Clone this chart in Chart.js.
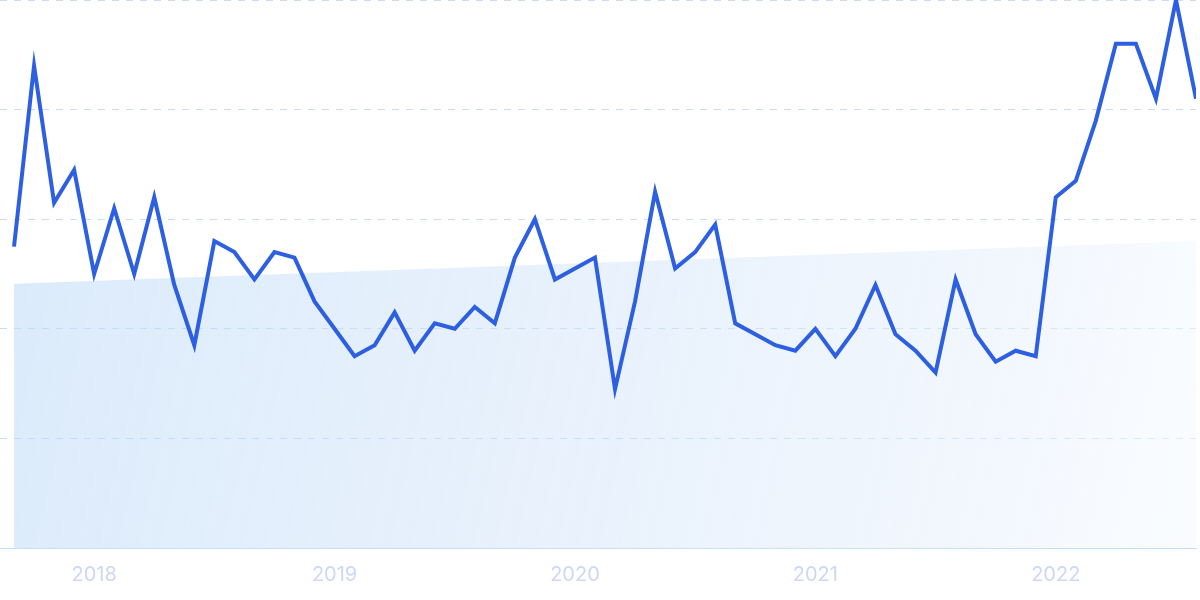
<!DOCTYPE html>
<html>
<head>
<meta charset="utf-8">
<script src="https://cdn.jsdelivr.net/npm/chart.js@4"></script>
<style>
html,body{margin:0;padding:0;background:#fff;}
#wrap{width:1200px;height:600px;}
</style>
</head>
<body>
<div id="wrap"><canvas id="c" width="1200" height="600"></canvas></div>
<script>
// Monthly interest, Sep 2017 .. Aug 2022
const months = ['2017-09','2017-10','2017-11','2017-12',
  '2018-01','2018-02','2018-03','2018-04','2018-05','2018-06','2018-07','2018-08','2018-09','2018-10','2018-11','2018-12',
  '2019-01','2019-02','2019-03','2019-04','2019-05','2019-06','2019-07','2019-08','2019-09','2019-10','2019-11','2019-12',
  '2020-01','2020-02','2020-03','2020-04','2020-05','2020-06','2020-07','2020-08','2020-09','2020-10','2020-11','2020-12',
  '2021-01','2021-02','2021-03','2021-04','2021-05','2021-06','2021-07','2021-08','2021-09','2021-10','2021-11','2021-12',
  '2022-01','2022-02','2022-03','2022-04','2022-05','2022-06','2022-07','2022-08'];
const interest = [55,88,63,69,
  50,62,50,64,48,37,56,54,49,54,53,45,
  40,35,37,43,36,41,40,44,41,53,60,49,
  51,53,29,45,65,51,54,59,41,39,37,36,
  40,35,40,48,39,36,32,49,39,34,36,35,
  64,67,78,92,92,82,100,82];
// Trend line: value at first and last month only
const trendStart = 48.2;
const trendEnd = 56.0;
const yearTickIndex = [4,16,28,40,52];
const yearLabels = ['2018','2019','2020','2021','2022'];

const linePoints = interest.map((v,i)=>({x:i,y:v}));
const trendPoints = [{x:0,y:trendStart},{x:months.length-1,y:trendEnd}];

new Chart(document.getElementById('c'), {
  type: 'line',
  data: {
    datasets: [
      {
        data: linePoints,
        borderColor: '#2c5fe2',
        borderWidth: 4,
        pointRadius: 0,
        tension: 0,
        fill: false,
        order: 0
      },
      {
        data: trendPoints,
        borderWidth: 0,
        borderColor: 'rgba(0,0,0,0)',
        pointRadius: 0,
        tension: 0,
        fill: 'origin',
        order: 1,
        backgroundColor: function(ctx){
          const ch = ctx.chart; const a = ch.chartArea;
          if(!a) return 'rgba(200,225,250,0.6)';
          const g = ch.ctx.createLinearGradient(a.left, a.top + 280, a.right, a.bottom);
          g.addColorStop(0, 'rgba(190,218,247,0.55)');
          g.addColorStop(0.55, 'rgba(205,225,249,0.42)');
          g.addColorStop(1, 'rgba(245,249,255,0.5)');
          return g;
        }
      }
    ]
  },
  options: {
    responsive: false,
    animation: false,
    layout: { padding: { left: 0, right: 4, top: 0, bottom: 0 } },
    plugins: { legend: { display: false }, tooltip: { enabled: false } },
    scales: {
      x: {
        type: 'linear',
        min: -0.7,
        max: 59,
        afterBuildTicks: function(scale){
          scale.ticks = yearTickIndex.map(v=>({value:v}));
        },
        afterFit: function(scale){ scale.height = 52; },
        grid: { display: false, drawTicks: false },
        border: { display: true, color: '#c4e1fb', width: 1 },
        ticks: {
          padding: 15,
          autoSkip: false,
          maxRotation: 0,
          color: '#cdd8f4',
          font: { family: 'Inter', size: 20 },
          callback: function(v){ const k = yearTickIndex.indexOf(v); return k >= 0 ? yearLabels[k] : ''; }
        }
      },
      y: {
        min: 0,
        max: 100,
        ticks: { display: false, stepSize: 20 },
        border: { display: false, dash: [7,7] },
        grid: { color: '#c8dcf8', lineWidth: 1, drawTicks: false }
      }
    }
  }
});
</script>
</body>
</html>
